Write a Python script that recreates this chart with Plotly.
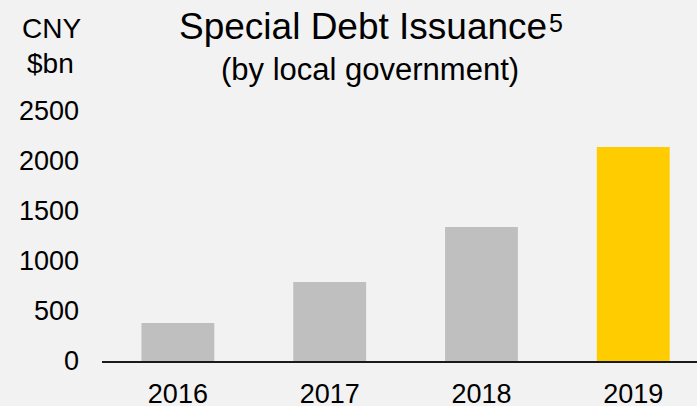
import plotly.graph_objects as go

years = ["2016", "2017", "2018", "2019"]
values = [380, 790, 1340, 2140]
colors = ["#bfbfbf", "#bfbfbf", "#bfbfbf", "#ffcc00"]
y_ticks = [0, 500, 1000, 1500, 2000, 2500]

FONT = "Liberation Sans, Arial, sans-serif"
W, H = 697, 406
L, R, T, B = 102, 0, 111, 45

fig = go.Figure(go.Bar(x=years, y=values, marker=dict(color=colors, line=dict(width=0)),
                       width=0.48, hoverinfo="skip"))

fig.update_layout(
    width=W, height=H,
    margin=dict(l=L, r=R, t=T, b=B, pad=0, autoexpand=False),
    paper_bgcolor="#f2f2f2", plot_bgcolor="#f2f2f2",
    font=dict(family=FONT, color="#000000", size=27),
    showlegend=False,
    xaxis=dict(type="category", range=[-0.5, 3.42], showgrid=False, zeroline=False,
               showline=True, linecolor="#1a1a1a", linewidth=2, ticks="",
               tickfont=dict(size=27), ticklabelstandoff=8, automargin=False,
               fixedrange=True),
    yaxis=dict(range=[0, 2500], tickvals=y_ticks, showgrid=False, zeroline=False,
               showline=False, ticks="", tickfont=dict(size=27),
               ticklabelstandoff=22, automargin=False, fixedrange=True),
)

def px_to_paper_x(px):
    return (px - L) / (W - L - R)

def px_to_paper_y(py):
    return (H - B - py) / (H - T - B)

anns = [
    dict(text="Special Debt Issuance", x=363, y=27, size=37),
    dict(text="5", x=556, y=23, size=25),
    dict(text="(by local government)", x=370, y=69, size=31),
    dict(text="CNY", x=52, y=29, size=28),
    dict(text="$bn", x=50, y=63, size=28),
]
for a in anns:
    fig.add_annotation(text=a["text"], xref="paper", yref="paper",
                       x=px_to_paper_x(a["x"]), y=px_to_paper_y(a["y"]),
                       xanchor="center", yanchor="middle", showarrow=False,
                       font=dict(family=FONT, size=a["size"], color="#000000"))

fig.write_html("out.html", config={"displayModeBar": False})
